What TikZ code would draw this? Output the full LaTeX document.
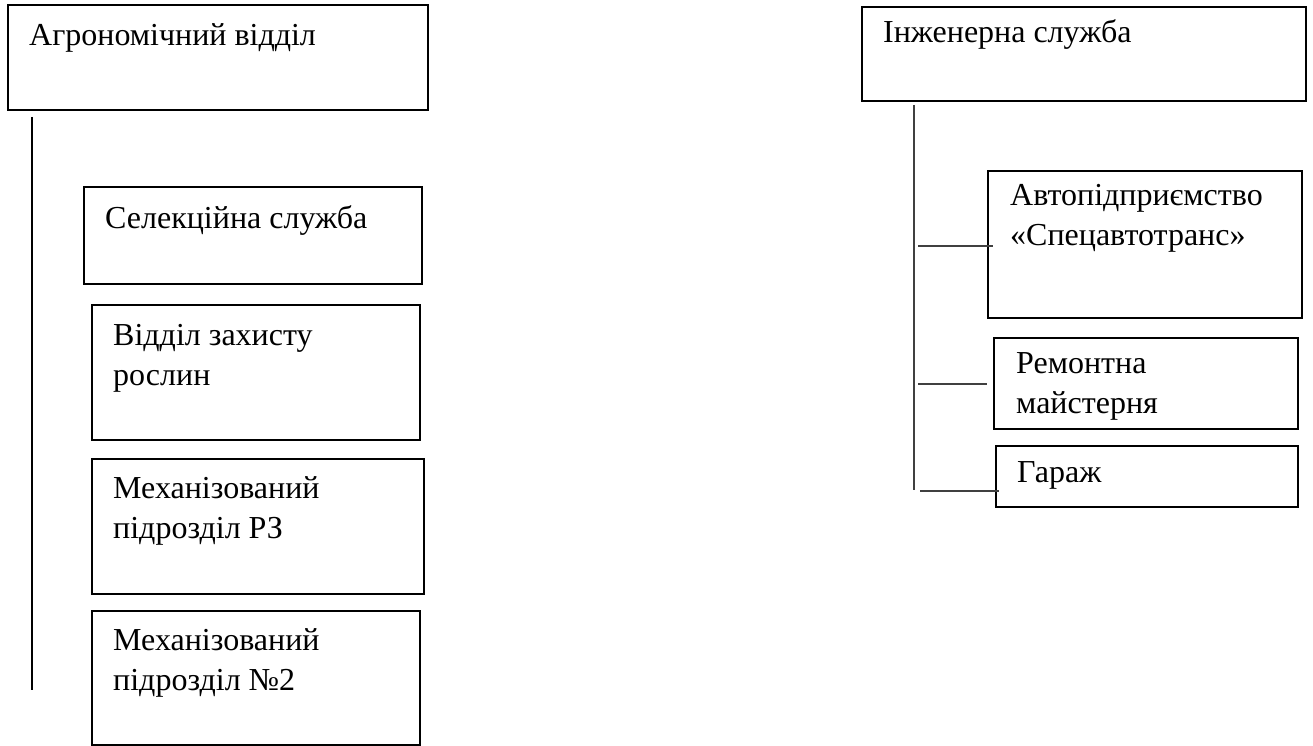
\documentclass[tikz,border=0pt]{standalone}
\usepackage{fontspec}
\setmainfont{Liberation Serif}
\begin{document}
\begin{tikzpicture}[x=1pt,y=-1pt,
  boxL/.style={draw=black, line width=2pt, inner sep=0pt, outer sep=0pt, anchor=north west},
  boxR/.style={draw=black, line width=1.6pt, inner sep=0pt, outer sep=0pt, anchor=north west},
  txt/.style={inner sep=0pt, anchor=base west, font=\fontsize{32}{40}\selectfont},
  vlineL/.style={draw=black, line width=2pt},
  vlineR/.style={draw=black!75, line width=1.1pt},
  conn/.style={draw=black!75, line width=1.1pt}]
\useasboundingbox (0,0) rectangle (1313,746);
% left group
\node[boxL, minimum width=420, minimum height=105] (agro) at (8,5) {};
\node[txt] (agrot) at (29,46) {Агрономічний відділ};
\node[boxL, minimum width=338, minimum height=97] (sel) at (84,187) {};
\node[txt] (selt) at (105,228) {Селекційна служба};
\node[boxL, minimum width=328, minimum height=135] (zah) at (92,305) {};
\node[txt] (zaht) at (113,345) {\begin{tabular}[t]{@{}l@{}}Відділ захисту\\рослин\end{tabular}};
\node[boxL, minimum width=332, minimum height=135] (mrz) at (92,459) {};
\node[txt] (mrzt) at (113,498) {\begin{tabular}[t]{@{}l@{}}Механізований\\підрозділ РЗ\end{tabular}};
\node[boxL, minimum width=328, minimum height=134] (mtwo) at (92,611) {};
\node[txt] (mtwot) at (113,650) {\begin{tabular}[t]{@{}l@{}}Механізований\\підрозділ №2\end{tabular}};
\coordinate (lvtop) at (32,117);
\coordinate (lvbot) at (32,690);
\draw[vlineL] (lvtop) -- (lvbot);
% right group
\node[boxR, minimum width=444, minimum height=94] (inzh) at (862,7) {};
\node[txt] (inzht) at (883,43) {Інженерна служба};
\node[boxR, minimum width=314, minimum height=147] (avto) at (988,171) {};
\node[txt] (avtot) at (1010,205) {\begin{tabular}[t]{@{}l@{}}Автопідприємство\\«Спецавтотранс»\end{tabular}};
\node[boxR, minimum width=304, minimum height=91] (rem) at (994,338) {};
\node[txt] (remt) at (1016,373) {\begin{tabular}[t]{@{}l@{}}Ремонтна\\майстерня\end{tabular}};
\node[boxR, minimum width=302, minimum height=61] (gar) at (996,446) {};
\node[txt] (gart) at (1017,482) {Гараж};
\coordinate (rvtop) at (914,105);
\coordinate (rvbot) at (914,490);
\draw[vlineR] (rvtop) -- (rvbot);
\coordinate (ca) at (918,246);
\coordinate (cb) at (918,384);
\coordinate (cc) at (920,491);
\draw[conn] (ca) -- ([xshift=5pt]avto.west |- ca);
\draw[conn] (cb) -- ([xshift=-7pt]rem.west |- cb);
\draw[conn] (cc) -- ([xshift=3pt]gar.west |- cc);
\end{tikzpicture}
\end{document}
